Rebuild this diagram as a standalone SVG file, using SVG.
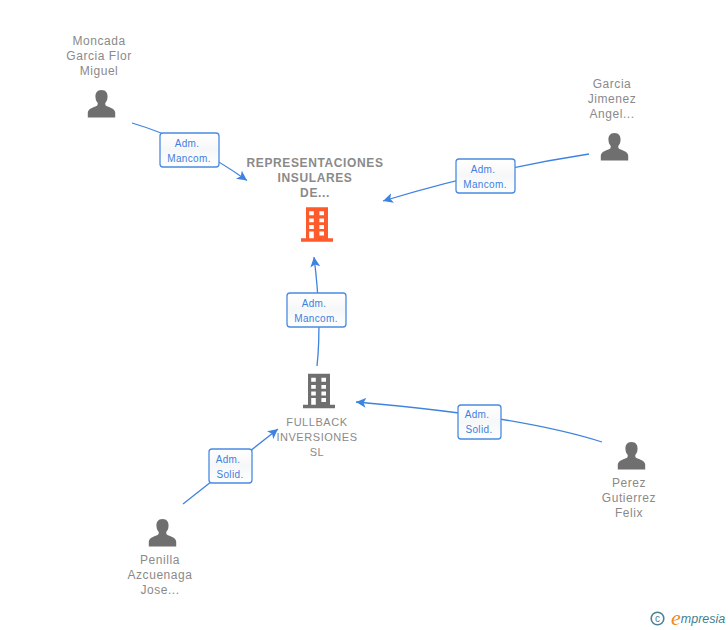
<svg xmlns="http://www.w3.org/2000/svg" width="728" height="630" viewBox="0 0 728 630">
<style>
text{font-family:"Liberation Sans",Arial,sans-serif;text-anchor:middle}
.n{font-size:12px;fill:#8a8a8a;letter-spacing:.55px}
.f{font-size:11px;fill:#8a8a8a;letter-spacing:.55px}
.b{font-size:12px;font-weight:700;fill:#8a8a8a;letter-spacing:.62px}
.l{font-size:10px;fill:#3f7fe0;letter-spacing:.35px}
.c{fill:none;stroke:#3f83e0;stroke-width:1.3}
.box{fill:url(#g);stroke:#4a8ae2;stroke-width:1.3}
.p{fill:#6f6f6f}
</style>
<defs>
<linearGradient id="g" x1="0" y1="0" x2="0" y2="1"><stop offset="0" stop-color="#fff"/><stop offset=".5" stop-color="#f6f7f8"/><stop offset="1" stop-color="#fff"/></linearGradient>
<marker id="a" markerWidth="12" markerHeight="12" refX="10" refY="5" orient="auto" markerUnits="userSpaceOnUse"><path d="M0 0L10 5L0 10L2.500 5Z" fill="#3f83e0"/></marker>
<path id="person" d="M0-14C-4.500-14-6.500-10.500-6-6.500C-5.800-4-5-2.500-3.800-1C-3.500.5-4 1.500-5.500 2.300C-9 3.800-13.300 4.800-13.700 8.500L-13.700 13.500L13.700 13.500L13.700 8.500C13.300 4.800 9 3.800 5.500 2.300C4 1.500 3.500.5 3.800-1C5-2.500 5.800-4 6-6.500C6.500-10.500 4.500-14 0-14Z"/>
<path id="bld" fill-rule="evenodd" d="M-11-17.300H11V13.800H16V17.200H-16V13.800H-11ZM-7.800-13.300V-9.300H-3.200V-13.300ZM2.400-13.300V-9.300H7V-13.300ZM-7.800-6V-2.200H-3.200V-6ZM2.400-6V-2.200H7V-6ZM-7.800 .5V4.500H-3.200V.5ZM2.400 .5V4.500H7V.5ZM-7.800 7V13.800H-3.200V7ZM2.400 7V11H7V7Z"/>
</defs>
<g id="connectors">
<path class="c" marker-end="url(#a)" d="M132 123Q190 140 247 180.500"/>
<path class="c" marker-end="url(#a)" d="M589 154Q485 170 383 201"/>
<path class="c" marker-end="url(#a)" d="M317 366Q322 320 314 257"/>
<path class="c" marker-end="url(#a)" d="M602 442Q520 416 356 402"/>
<path class="c" marker-end="url(#a)" d="M183 504L278 429"/>
</g>
<g id="label-1"><rect class="box" x="160" y="133" width="59" height="34" rx="3"/><text class="l" x="187" y="146.500">Adm.</text><text class="l" x="189" y="161.500">Mancom.</text></g>
<g id="label-2"><rect class="box" x="456" y="159" width="59" height="34" rx="3"/><text class="l" x="483" y="172.500">Adm.</text><text class="l" x="485" y="187.500">Mancom.</text></g>
<g id="label-3"><rect class="box" x="287" y="293" width="59" height="34" rx="3"/><text class="l" x="314" y="306.500">Adm.</text><text class="l" x="316" y="321.500">Mancom.</text></g>
<g id="label-4"><rect class="box" x="458" y="405" width="43" height="34" rx="3"/><text class="l" x="477" y="417.500">Adm.</text><text class="l" x="479" y="433">Solid.</text></g>
<g id="label-5"><rect class="box" x="209" y="449" width="43" height="34" rx="3"/><text class="l" x="228" y="462.500">Adm.</text><text class="l" x="230" y="477.500">Solid.</text></g>
<g id="node-moncada"><text class="n" x="99" y="45">Moncada</text><text class="n" x="99" y="60">Garcia Flor</text><text class="n" x="99" y="75">Miguel</text><use href="#person" class="p" x="101.500" y="104"/></g>
<g id="node-garcia"><text class="n" x="612" y="88">Garcia</text><text class="n" x="612" y="103">Jimenez</text><text class="n" x="612" y="118">Angel...</text><use href="#person" class="p" x="614.500" y="147"/></g>
<g id="node-representaciones"><text class="b" x="315" y="167">REPRESENTACIONES</text><text class="b" x="315" y="182">INSULARES</text><text class="b" x="315" y="197">DE...</text><use href="#bld" fill="#ff5a2b" x="317" y="224.500"/></g>
<g id="node-fullback"><text class="f" x="317" y="425.500">FULLBACK</text><text class="f" x="317" y="440.500">INVERSIONES</text><text class="f" x="317" y="455.500">SL</text><use href="#bld" fill="#6f6f6f" x="319" y="391"/></g>
<g id="node-perez"><text class="n" x="629" y="487">Perez</text><text class="n" x="629" y="502">Gutierrez</text><text class="n" x="629" y="517">Felix</text><use href="#person" class="p" x="631.500" y="456"/></g>
<g id="node-penilla"><text class="n" x="160" y="564">Penilla</text><text class="n" x="160" y="579">Azcuenaga</text><text class="n" x="160" y="594">Jose...</text><use href="#person" class="p" x="162.500" y="533"/></g>
<g id="logo"><circle cx="657.500" cy="618.500" r="6.300" fill="none" stroke="#4a8296" stroke-width="1.600"/><text x="657.500" y="622" style="font-size:10px;fill:#4a8296">c</text><text x="676" y="625" style="font-size:22px;font-style:italic;fill:#f08a1d;font-family:'Liberation Serif',serif">e</text><text x="703" y="623" style="font-size:12.500px;font-style:italic;fill:#3f7f93;font-family:'Liberation Sans',sans-serif">mpresia</text></g>
</svg>
